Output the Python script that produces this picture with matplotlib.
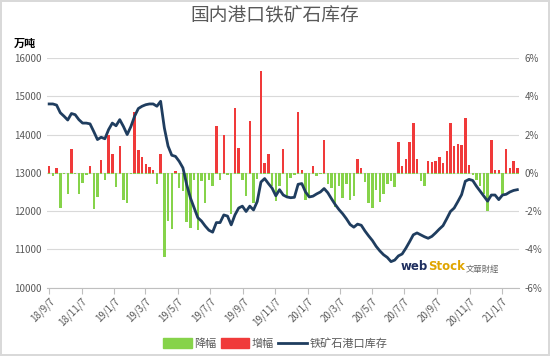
import numpy as np
import pandas as pd
import matplotlib
matplotlib.use('Agg')
import matplotlib.pyplot as plt
from matplotlib.patches import Patch
from matplotlib.lines import Line2D

plt.rcParams['font.family'] = ['Noto Sans CJK SC', 'DejaVu Sans']

# weekly dates
dates = pd.date_range('2018-09-07', periods=127, freq='7D')

# port iron ore inventory (10k tonnes)
stock = [14800, 14800, 14770, 14570, 14480, 14380, 14550, 14520, 14390, 14300,
         14300, 14280, 14080, 13870, 13930, 13890, 14130, 14300, 14230, 14390,
         14210, 14000, 14210, 14480, 14680, 14740, 14780, 14800, 14800, 14740,
         14870, 14175, 13700, 13460, 13430, 13300, 13130, 12700, 12350, 12090,
         11830, 11740, 11610, 11500, 11450, 11700, 11700, 11900, 11870, 11640,
         11900, 12080, 12130, 11990, 12130, 12030, 12250, 12760, 12850, 12720,
         12600, 12400, 12560, 12420, 12370, 12350, 12360, 12700, 12720, 12500,
         12370, 12390, 12450, 12500, 12590, 12480, 12320, 12170, 12040, 11930,
         11800, 11650, 11580, 11660, 11630, 11480, 11350, 11230, 11080, 10960,
         10860, 10790, 10680, 10720, 10830, 10880, 11030, 11200, 11380, 11430,
         11380, 11330, 11290, 11340, 11430, 11530, 11620, 11800, 11990, 12080,
         12250, 12430, 12780, 12830, 12800, 12650, 12520, 12390, 12260, 12420,
         12420, 12300, 12420, 12440, 12500, 12540, 12560]

# weekly change (%)
chg = [0.35, -0.17, 0.26, -1.85, -0.05, -1.13, 1.25, -0.05, -1.13, -0.52,
       -0.1, 0.36, -1.87, -1.25, 0.67, -0.39, 2.0, 1.0, -0.74, 1.4,
       -1.4, -1.6, -0.05, 3.2, 1.2, 0.85, 0.45, 0.28, 0.15, -0.6,
       1.0, -4.4, -2.5, -2.95, 0.12, -0.78, -0.96, -2.57, -2.87, -0.4,
       -3.0, -0.45, -1.57, -0.4, -0.7, 2.43, -0.35, 2.0, -0.09, -2.14,
       3.39, 1.3, -0.35, -1.2, 2.7, -1.57, -0.3, 5.3, 0.52, 1.0,
       -0.7, -1.48, -0.7, 1.22, -1.22, -0.26, -0.1, 3.18, 0.17, -1.4,
       -1.22, 0.38, -0.17, -0.05, 1.74, -0.6, -0.8, -1.8, -0.7, -1.3,
       -0.6, -1.4, -1.2, 0.72, 0.26, -0.5, -1.6, -1.85, -0.9, -1.5,
       -1.1, -0.6, -0.45, -0.76, 1.6, 0.35, 0.72, 1.6, 2.6, 0.74,
       -0.43, -0.7, 0.62, 0.57, 0.64, 0.82, 0.5, 1.13, 2.6, 1.39,
       1.5, 1.48, 2.87, 0.43, -0.1, -0.35, -0.7, -1.13, -1.97, 1.69,
       0.17, 0.17, -1.1, 1.25, 0.26, 0.61, 0.26]

tick_dates = pd.date_range('2018-09-01', '2021-01-01', freq='2MS') + pd.Timedelta(days=6)
tick_labels = [f"{d.year % 100}/{d.month}/{d.day}" for d in tick_dates]

green = '#86d34a'
red = '#f03a3a'
navy = '#1f3d5f'
gray = '#595959'

chg = np.array(chg)
down = np.where(chg < 0, chg, -0.07)
up = np.where(chg > 0, chg, 0)

fig = plt.figure(figsize=(5.5, 3.56), dpi=100)
fig.patch.set_facecolor('white')
fig.patch.set_edgecolor('#d9d9d9')
fig.patch.set_linewidth(1.5)

ax = fig.add_axes([0.0855, 0.192, 0.858, 0.645])
ax.bar(dates, down, width=4.6, color=green, zorder=2)
ax.bar(dates, up, width=4.6, color=red, zorder=2)
ax.set_ylim(-6, 6)
ax.grid(axis='y', color='#d9d9d9', linewidth=0.8, zorder=0)
ax.set_axisbelow(True)
ax.set_xlim(pd.Timestamp('2018-09-03'), pd.Timestamp('2021-02-08'))
ax.set_xticks(tick_dates)
ax.set_xticklabels(tick_labels, rotation=45, ha='right', va='top',
                   rotation_mode='anchor')
for s in ['top', 'left', 'right']:
    ax.spines[s].set_visible(False)
ax.spines['bottom'].set_color('#bfbfbf')
ax.tick_params(axis='x', colors='#bfbfbf', labelcolor=gray, labelsize=7,
               length=4, pad=2)

ax2 = ax.twinx()
ax2.plot(dates, stock, color=navy, linewidth=2.0, zorder=3)
ax2.set_ylim(10000, 16000)
ax2.set_yticks(np.arange(10000, 16001, 1000))
for s in ['top', 'left', 'right', 'bottom']:
    ax2.spines[s].set_visible(False)

# percent axis on the right, stock axis on the left
ax.yaxis.tick_right()
ax.set_yticks(np.arange(-6, 7, 2))
ax.set_yticklabels([f"{v}%" for v in range(-6, 7, 2)])
ax.tick_params(axis='y', length=0, labelcolor=gray, labelsize=7, pad=4,
               left=False, labelleft=False, right=False, labelright=True)
ax2.yaxis.tick_left()
ax2.tick_params(axis='y', length=0, labelcolor=gray, labelsize=7, pad=4,
                left=False, labelleft=True, right=False, labelright=False)

fig.text(0.5, 0.955, '国内港口铁矿石库存', ha='center', va='center',
         fontsize=13.5, color=gray)
fig.text(0.025, 0.878, '万吨', ha='left', va='center', fontsize=8,
         fontweight='bold', color='black')

# watermark
fig.text(0.778, 0.252, 'web', ha='right', va='center', fontsize=8.5,
         fontweight='bold', color='#1f2f5f', family='DejaVu Sans')
fig.text(0.778, 0.252, 'Stock', ha='left', va='center', fontsize=8.5,
         fontweight='bold', color='#e0a500', family='DejaVu Sans')
fig.text(0.847, 0.242, '文華財經', ha='left', va='center', fontsize=6,
         color='#666666', family=['Noto Sans CJK TC', 'DejaVu Sans'])

handles = [Patch(color=green), Patch(color=red),
           Line2D([0], [0], color=navy, linewidth=2.0)]
fig.legend(handles, ['降幅', '增幅', '铁矿石港口库存'], loc='center',
           bbox_to_anchor=(0.5, 0.035), ncol=3, frameon=False, fontsize=8,
           handlelength=2.6, handleheight=0.9, handletextpad=0.2,
           columnspacing=0.4, labelcolor=gray)

fig.savefig('out.png', dpi=100, facecolor=fig.get_facecolor(),
            edgecolor=fig.get_edgecolor())
